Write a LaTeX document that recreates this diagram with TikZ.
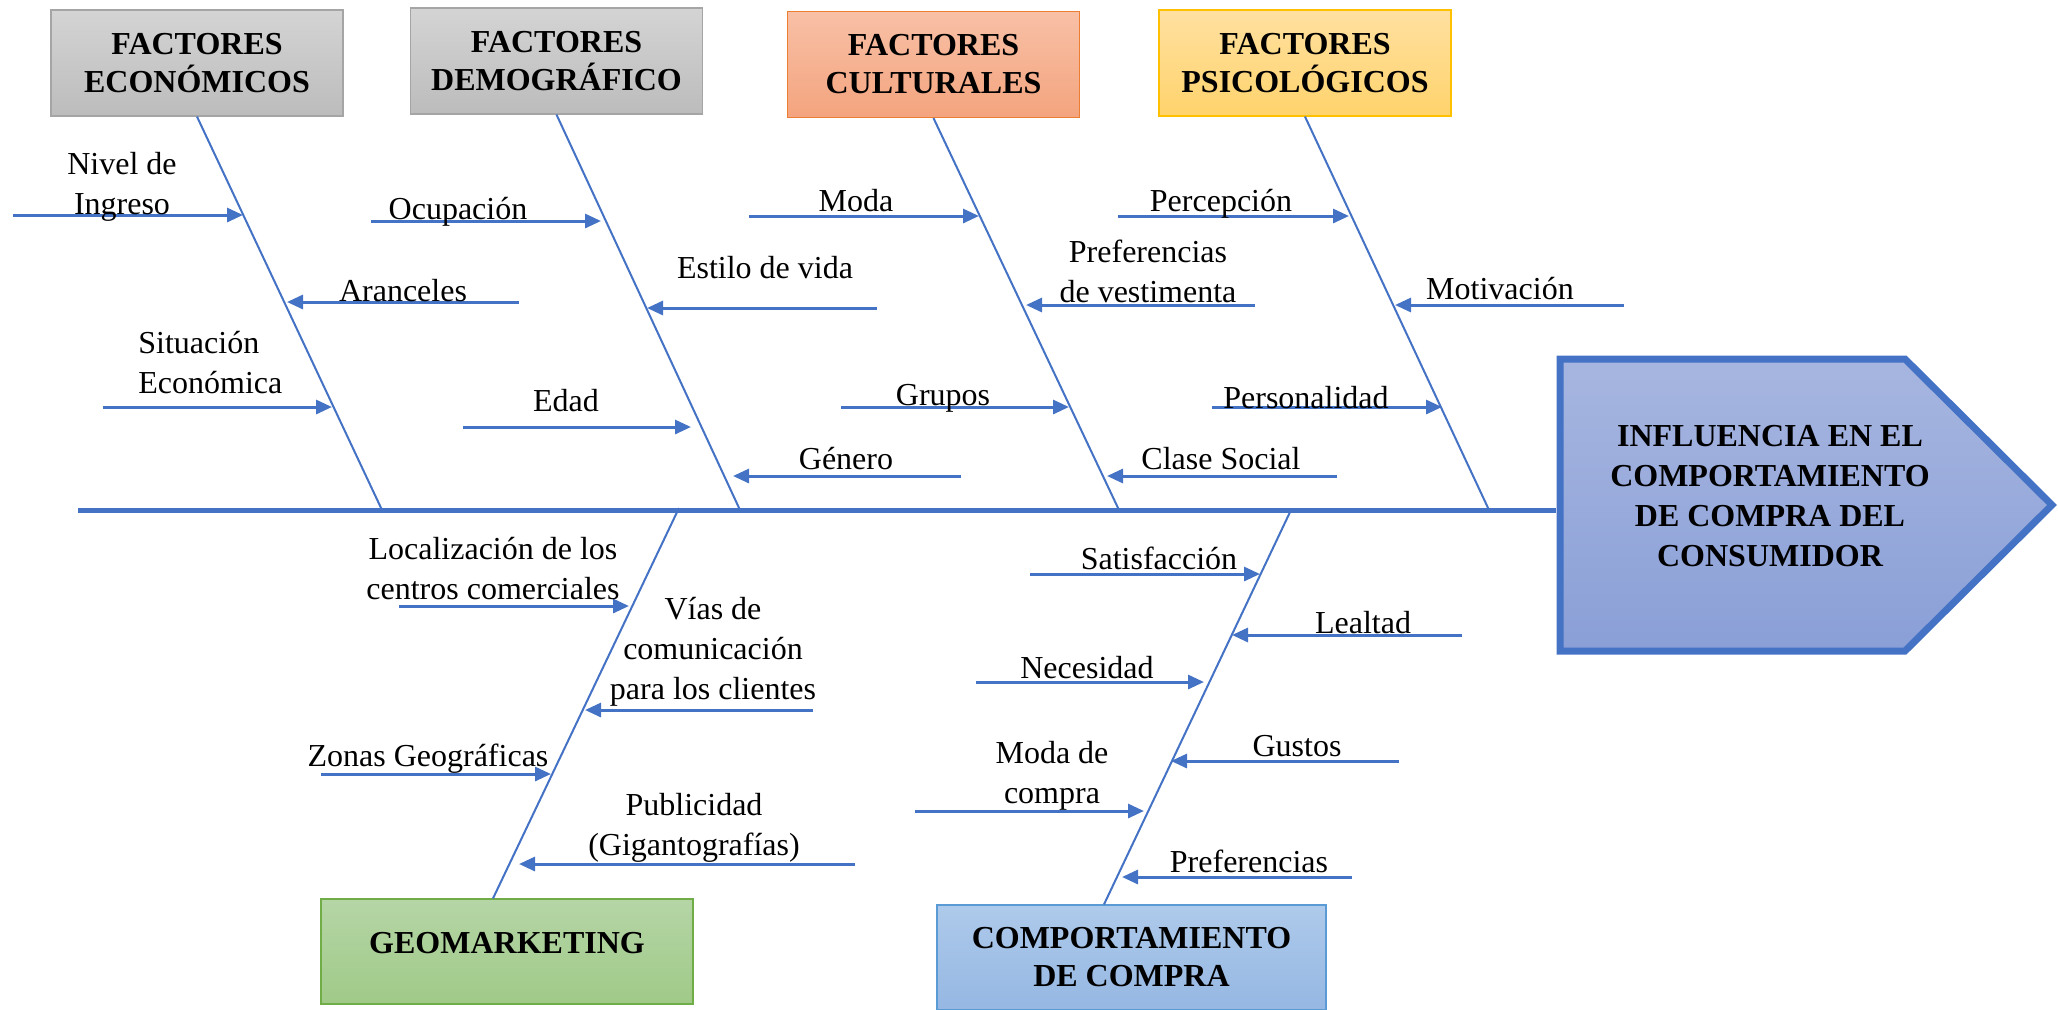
\documentclass[tikz,border=0pt]{standalone}
\usepackage{fontspec}
\setmainfont{Liberation Serif}
\usetikzlibrary{arrows.meta}
\definecolor{fishBlue}{HTML}{4472C4}
\definecolor{greyTop}{HTML}{D4D4D4}
\definecolor{greyBot}{HTML}{BCBCBC}
\definecolor{greyLine}{HTML}{A5A5A5}
\definecolor{orangeTop}{HTML}{F8C0A6}
\definecolor{orangeBot}{HTML}{F4A47E}
\definecolor{orangeLine}{HTML}{ED7D31}
\definecolor{yellowTop}{HTML}{FFE0A0}
\definecolor{yellowBot}{HTML}{FFD36C}
\definecolor{yellowLine}{HTML}{FFC000}
\definecolor{greenTop}{HTML}{B5D5A6}
\definecolor{greenBot}{HTML}{A0CA88}
\definecolor{greenLine}{HTML}{70AD47}
\definecolor{skyTop}{HTML}{AECAEB}
\definecolor{skyBot}{HTML}{95B7E2}
\definecolor{skyLine}{HTML}{5B9BD5}
\definecolor{headTop}{HTML}{A7B6E0}
\definecolor{headBot}{HTML}{8A9FD7}

\begin{document}
\begin{tikzpicture}[x=0.5pt,y=-0.5pt,>={Triangle[length=8pt,width=7pt]},
    every node/.style={inner sep=0pt,font=\fontsize{16}{20}\selectfont},
    cause/.style={draw=#1Line,top color=#1Top,bottom color=#1Bot,line width=0.6pt,
      minimum width=146pt,minimum height=53pt,align=center,
      font=\fontsize{16}{19}\selectfont\bfseries},
    bone/.style={fishBlue,line width=1pt},
    rib/.style={fishBlue,line width=1.5pt,->},
    item/.style={align=center}]
    \useasboundingbox (0,0) rectangle (2058,1009);

    % head of the fish
    \draw[fishBlue,line width=3.5pt,line join=miter,top color=headTop,bottom color=headBot]
      (1560,359) -- (1905,359) -- (2052,505) -- (1905,651) -- (1560,651) -- cycle;
    \node[font=\fontsize{16}{20}\selectfont\bfseries,align=center] (effect) at (1770,496)
      {INFLUENCIA EN EL\\COMPORTAMIENTO\\DE COMPRA DEL\\CONSUMIDOR};

    % spine
    \coordinate (tail) at (78,510);
    \coordinate (headL) at (1556,510);
    \draw[fishBlue,line width=2.5pt] (tail) -- (headL);

    % categories
    \node[cause=grey] (eco) at (197,63) {FACTORES\\ECONÓMICOS};
    \node[cause=grey] (demo) at (556.5,61) {FACTORES\\DEMOGRÁFICO};
    \node[cause=orange] (cult) at (933.5,64.5) {FACTORES\\CULTURALES};
    \node[cause=yellow] (psico) at (1305,63) {FACTORES\\PSICOLÓGICOS};
    \node[cause=green,minimum width=186pt,minimum height=52.5pt,text depth=9pt] (geo) at (507,951.5) {GEOMARKETING};
    \node[cause=sky,minimum width=194.5pt,minimum height=52.5pt] (comp) at (1131.5,957.5) {COMPORTAMIENTO\\DE COMPRA};

    % bones
    \coordinate (ecoS) at (382,510);
    \coordinate (demoS) at (740,510);
    \coordinate (cultS) at (1119,510);
    \coordinate (psicoS) at (1489,510);
    \coordinate (geoS) at (679,508);
    \coordinate (compS) at (1291,510);
    \draw[bone] (eco.south) -- (ecoS);
    \draw[bone] (demo.south) -- (demoS);
    \draw[bone] (cult.south) -- (cultS);
    \draw[bone] (psico.south) -- (psicoS);
    \draw[bone] (geoS) -- ([xshift=-7pt]geo.north);
    \draw[bone] (compS) -- ([xshift=-13.75pt]comp.north);

    % factores economicos
    \coordinate (ingA) at (13,215);   \coordinate (ingB) at (243,215);
    \coordinate (araA) at (519,302);  \coordinate (araB) at (287,302);
    \coordinate (sitA) at (103,407);  \coordinate (sitB) at (332,407);
    \draw[rib] (ingA) -- (ingB);
    \draw[rib] (araA) -- (araB);
    \draw[rib] (sitA) -- (sitB);
    \node[item] (ingL) at (122,187) {Nivel de\\Ingreso};
    \node (araL) at (403,291) {Aranceles};
    \node[align=left,anchor=west] (sitL) at (138,363) {Situación\\Económica};

    % factores demograficos
    \coordinate (ocuA) at (371,221);  \coordinate (ocuB) at (601,221);
    \coordinate (estA) at (877,308);  \coordinate (estB) at (647,308);
    \coordinate (edaA) at (463,427);  \coordinate (edaB) at (691,427);
    \coordinate (genA) at (961,476);  \coordinate (genB) at (733,476);
    \draw[rib] (ocuA) -- (ocuB);
    \draw[rib] (estA) -- (estB);
    \draw[rib] (edaA) -- (edaB);
    \draw[rib] (genA) -- (genB);
    \node (ocuL) at (458,212) {Ocupación};
    \node (estL) at (765,268) {Estilo de vida};
    \node (edaL) at (566,401) {Edad};
    \node (genL) at (846,459) {Género};

    % factores culturales
    \coordinate (modA) at (749,216);  \coordinate (modB) at (979,216);
    \coordinate (vesA) at (1255,305); \coordinate (vesB) at (1026,305);
    \coordinate (gruA) at (841,407);  \coordinate (gruB) at (1069,407);
    \coordinate (claA) at (1337,476); \coordinate (claB) at (1107,476);
    \draw[rib] (modA) -- (modB);
    \draw[rib] (vesA) -- (vesB);
    \draw[rib] (gruA) -- (gruB);
    \draw[rib] (claA) -- (claB);
    \node (modL) at (856,201) {Moda};
    \node[item] (vesL) at (1148,271) {Preferencias\\de vestimenta};
    \node (gruL) at (943,398) {Grupos};
    \node (claL) at (1221,459) {Clase Social};

    % factores psicologicos
    \coordinate (perA) at (1118,216); \coordinate (perB) at (1349,216);
    \coordinate (motA) at (1624,305); \coordinate (motB) at (1395,305);
    \coordinate (psoA) at (1212,407); \coordinate (psoB) at (1442,407);
    \draw[rib] (perA) -- (perB);
    \draw[rib] (motA) -- (motB);
    \draw[rib] (psoA) -- (psoB);
    \node (perL) at (1221,204) {Percepción};
    \node (motL) at (1500,289) {Motivación};
    \node (psoL) at (1306,398) {Personalidad};

    % geomarketing
    \coordinate (locA) at (399,606);  \coordinate (locB) at (629,606);
    \coordinate (viaA) at (813,710);  \coordinate (viaB) at (585,710);
    \coordinate (zonA) at (321,774);  \coordinate (zonB) at (551,774);
    \coordinate (pubA) at (855,864);  \coordinate (pubB) at (519,864);
    \draw[rib] (locA) -- (locB);
    \draw[rib] (viaA) -- (viaB);
    \draw[rib] (zonA) -- (zonB);
    \draw[rib] (pubA) -- (pubB);
    \node[item] (locL) at (493,569) {Localización de los\\centros comerciales};
    \node[item] (viaL) at (713,652) {Vías de\\comunicación\\para los clientes};
    \node (zonL) at (428,759) {Zonas Geográficas};
    \node[item] (pubL) at (694,828) {Publicidad\\(Gigantografías)};

    % comportamiento de compra
    \coordinate (satA) at (1030,574); \coordinate (satB) at (1260,574);
    \coordinate (leaA) at (1462,635); \coordinate (leaB) at (1232,635);
    \coordinate (necA) at (976,682);  \coordinate (necB) at (1204,682);
    \coordinate (gusA) at (1399,761); \coordinate (gusB) at (1171,761);
    \coordinate (mdcA) at (915,811);  \coordinate (mdcB) at (1144,811);
    \coordinate (preA) at (1352,877); \coordinate (preB) at (1122,877);
    \draw[rib] (satA) -- (satB);
    \draw[rib] (leaA) -- (leaB);
    \draw[rib] (necA) -- (necB);
    \draw[rib] (gusA) -- (gusB);
    \draw[rib] (mdcA) -- (mdcB);
    \draw[rib] (preA) -- (preB);
    \node (satL) at (1159,558) {Satisfacción};
    \node (leaL) at (1363,623) {Lealtad};
    \node (necL) at (1087,668) {Necesidad};
    \node (gusL) at (1297,746) {Gustos};
    \node[item] (mdcL) at (1052,776) {Moda de\\compra};
    \node (preL) at (1249,861) {Preferencias};
\end{tikzpicture}
\end{document}
